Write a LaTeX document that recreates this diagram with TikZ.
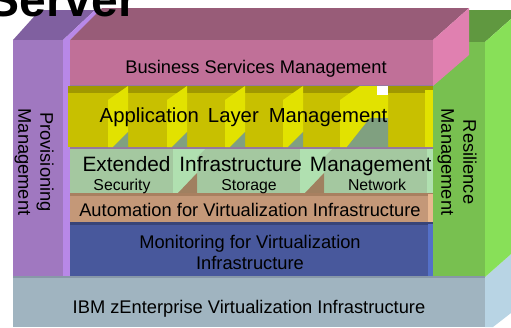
\documentclass[tikz,border=0pt]{standalone}
\usepackage{fontspec}
\setmainfont{Liberation Sans}
\definecolor{baseF}{RGB}{160,180,192}
\definecolor{baseS}{RGB}{184,212,228}
\definecolor{baseL}{RGB}{136,152,168}
\definecolor{grnF}{RGB}{120,192,80}
\definecolor{grnT}{RGB}{96,152,64}
\definecolor{grnS}{RGB}{136,224,88}
\definecolor{purF}{RGB}{160,120,192}
\definecolor{purT}{RGB}{128,96,160}
\definecolor{purS}{RGB}{184,136,232}
\definecolor{pnkF}{RGB}{192,112,152}
\definecolor{pnkT}{RGB}{152,92,120}
\definecolor{pnkS}{RGB}{224,128,176}
\definecolor{ylwF}{RGB}{200,192,0}
\definecolor{ylwT}{RGB}{160,152,0}
\definecolor{ylwB}{RGB}{226,226,0}
\definecolor{shd}{RGB}{128,160,128}
\definecolor{extF}{RGB}{164,200,160}
\definecolor{extB}{RGB}{176,224,176}
\definecolor{brn}{RGB}{160,128,96}
\definecolor{autF}{RGB}{196,152,120}
\definecolor{autT}{RGB}{168,128,96}
\definecolor{autS}{RGB}{232,184,144}
\definecolor{monF}{RGB}{72,88,156}
\definecolor{monT}{RGB}{56,68,120}
\definecolor{monS}{RGB}{84,112,200}
\definecolor{gapC}{RGB}{150,120,160}
\begin{document}
\begin{tikzpicture}[x=1pt,y=-1pt,
  lbl/.style={inner sep=0pt,outer sep=0pt,text=black},
  big/.style={lbl,font=\fontsize{18.3}{21}\selectfont},
  vert/.style={lbl,rotate=-90,align=center,font=\fontsize{18.3}{22}\selectfont}]
\useasboundingbox (0,0) rectangle (511,327);
\begin{scope}
\clip (0,0) rectangle (511,327);
\fill[white] (0,0) rectangle (511,327);
% base
\fill[baseF] (13,277) rectangle (485,327);
\fill[baseS] (485,277) -- (511,254) -- (511,313) -- (493,327) -- (485,327) -- cycle;
% green column
\fill[grnT] (433,42) -- (485,42) -- (521,10) -- (469,10) -- cycle;
\fill[grnS] (485,42) -- (511,19) -- (511,254) -- (485,277) -- cycle;
\fill[grnF] (433,42) rectangle (485,276);
% purple column
\fill[purT] (13,40) -- (63,40) -- (95,10) -- (40,10) -- cycle;
\fill[purS] (63,40) -- (95,10) -- (102,10) -- (70,40) -- (70,276) -- (63,276) -- cycle;
\fill[purF] (13,40) rectangle (63,276);
% background of inner layers
\fill[gapC] (70,85) rectangle (433,276);
% pink box
\fill[pnkT] (70,40) -- (433,40) -- (469,8) -- (102,8) -- cycle;
\fill[pnkF] (70,40) rectangle (433,85);
\fill[pnkS] (433,40) -- (469,8) -- (469,55) -- (433,86) -- cycle;
% yellow layer
\fill[ylwT] (68,86) rectangle (433,93);
\fill[ylwF] (68,93) rectangle (433,147);
\foreach \g in {108,167,225,283}{
  \fill[ylwB] (\g,100) -- (\g+20,86) -- (\g+20,132) -- (\g+5,147) -- (\g,147) -- cycle;
  \fill[shd] (\g+20,132) -- (\g+20,147) -- (\g+5,147) -- cycle;
}
\fill[ylwB] (340,100) -- (360,86) -- (377,86) -- (377,95) -- (388,95) -- (388,118) -- (370,118) -- (347,147) -- (340,147) -- cycle;
\fill[shd] (370,118) -- (388,118) -- (388,147) -- (347,147) -- cycle;
\fill[white] (377,86) rectangle (388,95);
\fill[ylwB] (425,90) rectangle (433,147);
% extended layer
\fill[extF] (70,149) rectangle (433,193);
\foreach \g in {173,300}{
  \fill[extB] (\g,149) -- (\g+32,149) -- (\g+24,157) -- (\g+24,193) -- (\g,193) -- cycle;
  \fill[brn] (\g+5,193) -- (\g+24,173) -- (\g+24,193) -- cycle;
}
\fill[extB] (427,149) rectangle (433,193);
% automation layer
\fill[autT] (70,193) rectangle (433,196);
\fill[autF] (70,196) rectangle (433,222);
\fill[autS] (428,194) rectangle (433,222);
% monitoring layer
\fill[monT] (70,222) rectangle (433,225);
\fill[monF] (70,225) rectangle (433,276);
\fill[monS] (428,224) rectangle (433,276);
% base top line
\draw[baseL,line width=1.5pt] (13,277) -- (485,277);
% texts
\node[lbl,anchor=base east,font=\bfseries\fontsize{48}{50}\selectfont] (srv) at (137,16) {Server};
\node[big,anchor=base] (bsm) at (256,73) {Business Services Management};
\node[lbl,anchor=base,font=\fontsize{20.3}{22}\selectfont] (alm) at (243.5,122) {Application\hspace{9pt}Layer\hspace{10pt}Management};
\node[lbl,anchor=base,font=\fontsize{20.8}{22}\selectfont] (eim) at (257,171) {Extended\hspace{9pt}Infrastructure\hspace{8pt}Management};
\node[lbl,anchor=base,font=\fontsize{15.8}{17}\selectfont] (sec) at (122,190) {Security};
\node[lbl,anchor=base,font=\fontsize{15.8}{17}\selectfont] (sto) at (249,190) {Storage};
\node[lbl,anchor=base,font=\fontsize{15.8}{17}\selectfont] (net) at (377,190) {Network};
\node[big,anchor=base] (avi) at (250,216) {Automation for Virtualization Infrastructure};
\node[big,align=center,anchor=north] (mvi) at (250,235.5) {Monitoring for Virtualization\\Infrastructure};
\node[big,anchor=base] (ibm) at (249,313) {IBM zEnterprise Virtualization Infrastructure};
\node[vert] (prov) at (34,162) {Provisioning\\Management};
\node[vert] (res) at (457,162) {Resilience\\Management};
\end{scope}
\end{tikzpicture}
\end{document}
